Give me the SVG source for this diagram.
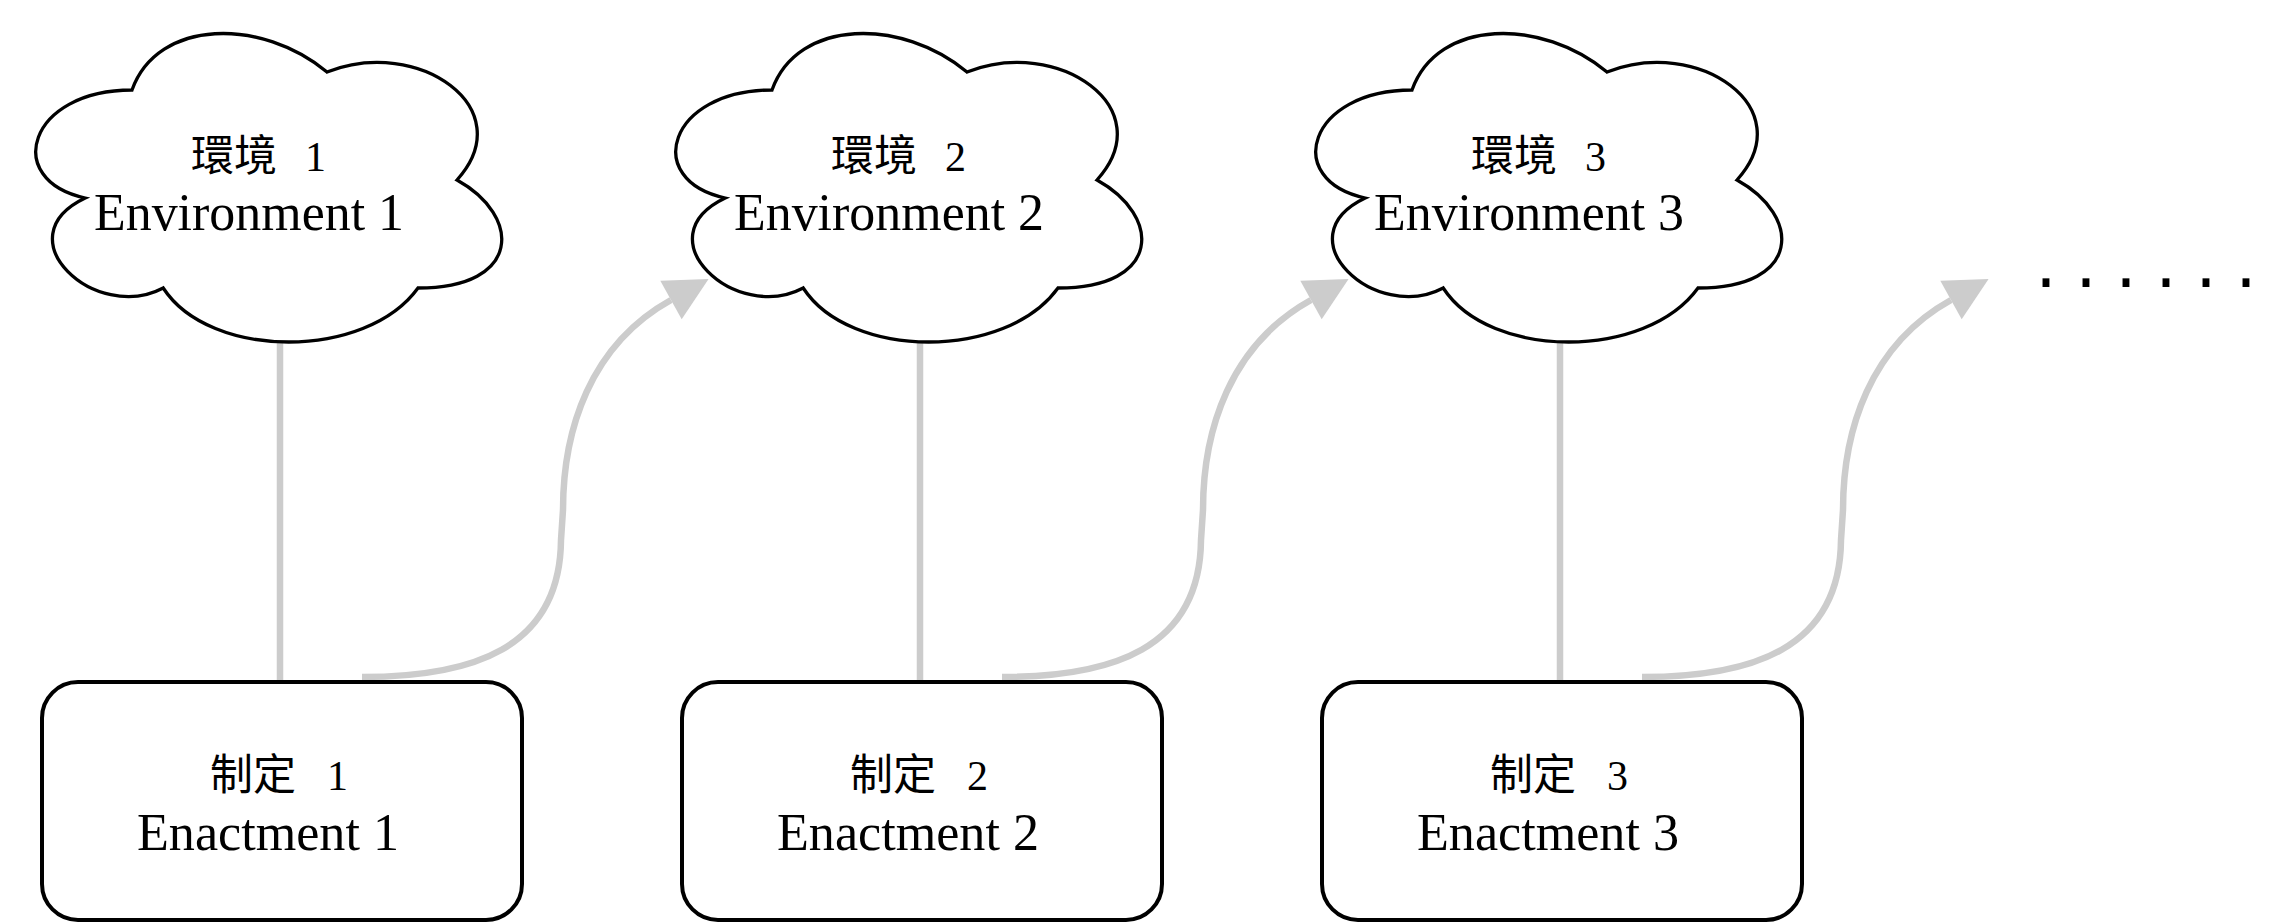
<svg xmlns="http://www.w3.org/2000/svg" xmlns:xlink="http://www.w3.org/1999/xlink" width="2292" height="924" viewBox="0 0 2292 924">
  <style>
    .cloud { fill: #ffffff; stroke: #000000; stroke-width: 3.3; stroke-linejoin: miter; }
    .box { fill: #ffffff; stroke: #000000; stroke-width: 4; }
    .link { fill: none; stroke: #cccccc; stroke-width: 6.5; }
    .arrow { marker-end: url(#head); }
    .cjk { font-family: "Noto Sans CJK TC", "Noto Sans CJK SC", sans-serif; font-size: 43px; fill: #000; }
    .num { font-family: "Liberation Serif", serif; font-size: 42px; fill: #000; }
    .lat { font-family: "Liberation Serif", serif; font-size: 52px; fill: #000; }
    .dots { font-family: "Liberation Mono", monospace; font-size: 60px; letter-spacing: 4px; fill: #000; }
  </style>
  <defs>
    <path id="cloudShape" d="M 132 90 C 28 90, 2 180, 85.2 198 C 2 237.6, 95.6 324, 163.2 288 C 210 360, 366 360, 418 288 C 522 288, 522 216, 457 180 C 522 108, 418 36, 327 72 C 262 18, 158 18, 132 90 Z"/>
    <marker id="head" markerUnits="userSpaceOnUse" markerWidth="44" markerHeight="44" refX="0" refY="22" orient="auto" overflow="visible">
      <path d="M 0 0 L 43 22 L 0 44 Z" fill="#cccccc"/>
    </marker>
  </defs>
  <rect x="0" y="0" width="2292" height="924" fill="#ffffff"/>

  <g id="connectors">
    <line class="link" x1="280" y1="343" x2="280" y2="681"/>
    <line class="link" x1="920" y1="343" x2="920" y2="681"/>
    <line class="link" x1="1560" y1="343" x2="1560" y2="681"/>
    <path class="link arrow" d="M 362 677 C 470 677, 560 650, 561 540 L 563 510 C 563 430, 590 345, 671 300"/>
    <path class="link arrow" d="M 1002 677 C 1110 677, 1200 650, 1201 540 L 1203 510 C 1203 430, 1230 345, 1311 300"/>
    <path class="link arrow" d="M 1642 677 C 1750 677, 1840 650, 1841 540 L 1843 510 C 1843 430, 1870 345, 1951 300"/>
  </g>

  <g id="env1">
    <use xlink:href="#cloudShape" href="#cloudShape" class="cloud"/>
    <text y="171"><tspan class="cjk" x="191">環境</tspan><tspan class="num" x="305">1</tspan></text>
    <text class="lat" x="94" y="230" textLength="310" lengthAdjust="spacingAndGlyphs">Environment 1</text>
  </g>
  <g id="env2">
    <use xlink:href="#cloudShape" href="#cloudShape" class="cloud" x="640"/>
    <text y="171"><tspan class="cjk" x="831">環境</tspan><tspan class="num" x="945">2</tspan></text>
    <text class="lat" x="734" y="230" textLength="310" lengthAdjust="spacingAndGlyphs">Environment 2</text>
  </g>
  <g id="env3">
    <use xlink:href="#cloudShape" href="#cloudShape" class="cloud" x="1280"/>
    <text y="171"><tspan class="cjk" x="1471">環境</tspan><tspan class="num" x="1585">3</tspan></text>
    <text class="lat" x="1374" y="230" textLength="310" lengthAdjust="spacingAndGlyphs">Environment 3</text>
  </g>

  <g id="enact1">
    <rect class="box" x="42" y="682" width="480" height="238" rx="36" ry="36"/>
    <text y="790"><tspan class="cjk" x="210">制定</tspan><tspan class="num" x="327">1</tspan></text>
    <text class="lat" x="137" y="850" textLength="262" lengthAdjust="spacingAndGlyphs">Enactment 1</text>
  </g>
  <g id="enact2">
    <rect class="box" x="682" y="682" width="480" height="238" rx="36" ry="36"/>
    <text y="790"><tspan class="cjk" x="850">制定</tspan><tspan class="num" x="967">2</tspan></text>
    <text class="lat" x="777" y="850" textLength="262" lengthAdjust="spacingAndGlyphs">Enactment 2</text>
  </g>
  <g id="enact3">
    <rect class="box" x="1322" y="682" width="480" height="238" rx="36" ry="36"/>
    <text y="790"><tspan class="cjk" x="1490">制定</tspan><tspan class="num" x="1607">3</tspan></text>
    <text class="lat" x="1417" y="850" textLength="262" lengthAdjust="spacingAndGlyphs">Enactment 3</text>
  </g>

  <g id="more">
    <text class="dots" x="2028" y="287">......</text>
  </g>
</svg>
